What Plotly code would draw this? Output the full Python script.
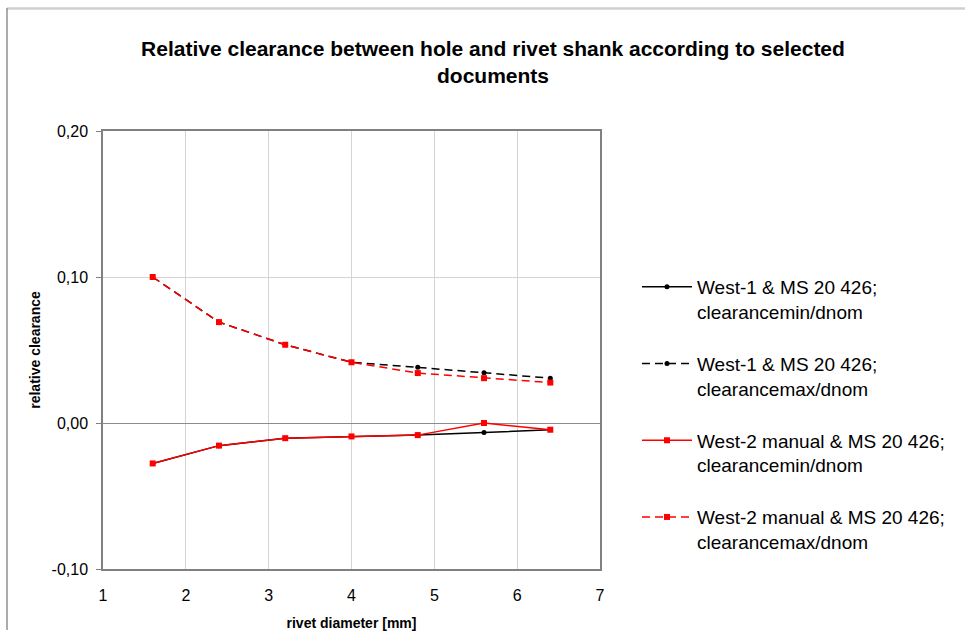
import plotly.graph_objects as go

# ---- data ----
rivet_d = [1.6, 2.4, 3.2, 4.0, 4.8, 5.6, 6.4]
west1_min = [-0.0277, -0.0155, -0.0104, -0.0092, -0.0083, -0.0065, -0.0046]
west1_max = [0.1000, 0.0691, 0.0536, 0.0416, 0.0381, 0.0344, 0.0307]
west2_min = [-0.0277, -0.0155, -0.0104, -0.0092, -0.0083, 0.0000, -0.0046]
west2_max = [0.1000, 0.0691, 0.0536, 0.0416, 0.0342, 0.0307, 0.0277]
names = [
    "West-1 & MS 20 426;<br>clearancemin/dnom",
    "West-1 & MS 20 426;<br>clearancemax/dnom",
    "West-2 manual & MS 20 426;<br>clearancemin/dnom",
    "West-2 manual & MS 20 426;<br>clearancemax/dnom",
]
y_ticks = [-0.10, 0.0, 0.10, 0.20]
y_tick_labels = ["-0,10", "0,00", "0,10", "0,20"]
x_ticks = [1, 2, 3, 4, 5, 6, 7]

W, H = 965, 634
L, R, T, B = 103, 600, 131, 569

def px_x(p):
    return (p - L) / (R - L)

def px_y(p):
    return (B - p) / (B - T)

fig = go.Figure()
series = [
    (west1_min, "#000000", "solid", "circle", 5),
    (west1_max, "#000000", "8px,5px", "circle", 5),
    (west2_min, "#ff0000", "solid", "square", 6),
    (west2_max, "#ff0000", "8px,5px", "square", 6),
]
for i, (vals, col, dash, sym, ms) in enumerate(series):
    fig.add_trace(go.Scatter(
        x=rivet_d, y=vals, name=names[i], mode="lines+markers",
        legendgroup=f"g{i}",
        line=dict(color=col, width=1.5, dash=dash),
        marker=dict(color=col, symbol=sym, size=ms),
    ))

fig.update_layout(
    width=W, height=H,
    margin=dict(l=L, r=W - R, t=T, b=H - B, pad=0),
    paper_bgcolor="white", plot_bgcolor="white",
    separators=",.",
    font=dict(family="Liberation Sans, Arial, sans-serif", color="#000000"),
    title=dict(
        text="<b>Relative clearance between hole and rivet shank according to selected<br>documents</b>",
        x=493 / W, xanchor="center", y=1 - 56 / H, yanchor="middle",
        font=dict(size=21),
    ),
    xaxis=dict(
        range=[1, 7], tickvals=x_ticks, showgrid=True, gridcolor="#d4d4d4",
        showline=True, linecolor="#808080", mirror=True, linewidth=1.5,
        ticks="", tickfont=dict(size=16), ticklabelstandoff=11,
        zeroline=False, automargin=False,
        title=dict(text="<b>rivet diameter [mm]</b>", font=dict(size=14), standoff=15),
    ),
    yaxis=dict(
        range=[-0.10, 0.20], tickvals=y_ticks, ticktext=y_tick_labels,
        showgrid=True, gridcolor="#d4d4d4",
        showline=True, linecolor="#808080", mirror=True, linewidth=1.5,
        ticks="outside", ticklen=5, tickcolor="#808080", tickfont=dict(size=16),
        ticklabelstandoff=5,
        zeroline=True, zerolinecolor="#8c8c8c", zerolinewidth=1, automargin=False,
        title=dict(text="<b>relative clearance</b>", font=dict(size=14), standoff=8),
    ),
    legend=dict(
        x=px_x(637), y=px_y(268), xanchor="left", yanchor="top",
        font=dict(size=19), valign="top", itemwidth=50,
        traceorder="grouped", tracegroupgap=24.3,
        bgcolor="rgba(0,0,0,0)",
    ),
    shapes=[
        dict(type="line", xref="paper", yref="paper",
             x0=px_x(7), x1=px_x(W), y0=px_y(8.5), y1=px_y(8.5),
             line=dict(color="#d0d0d0", width=2.5)),
        dict(type="line", xref="paper", yref="paper",
             x0=px_x(7), x1=px_x(7), y0=px_y(8), y1=px_y(630),
             line=dict(color="#909090", width=1.5)),
    ],
)

fig.write_html("out.html", config={"displayModeBar": False},
               post_script="document.body.style.margin='0px';")
